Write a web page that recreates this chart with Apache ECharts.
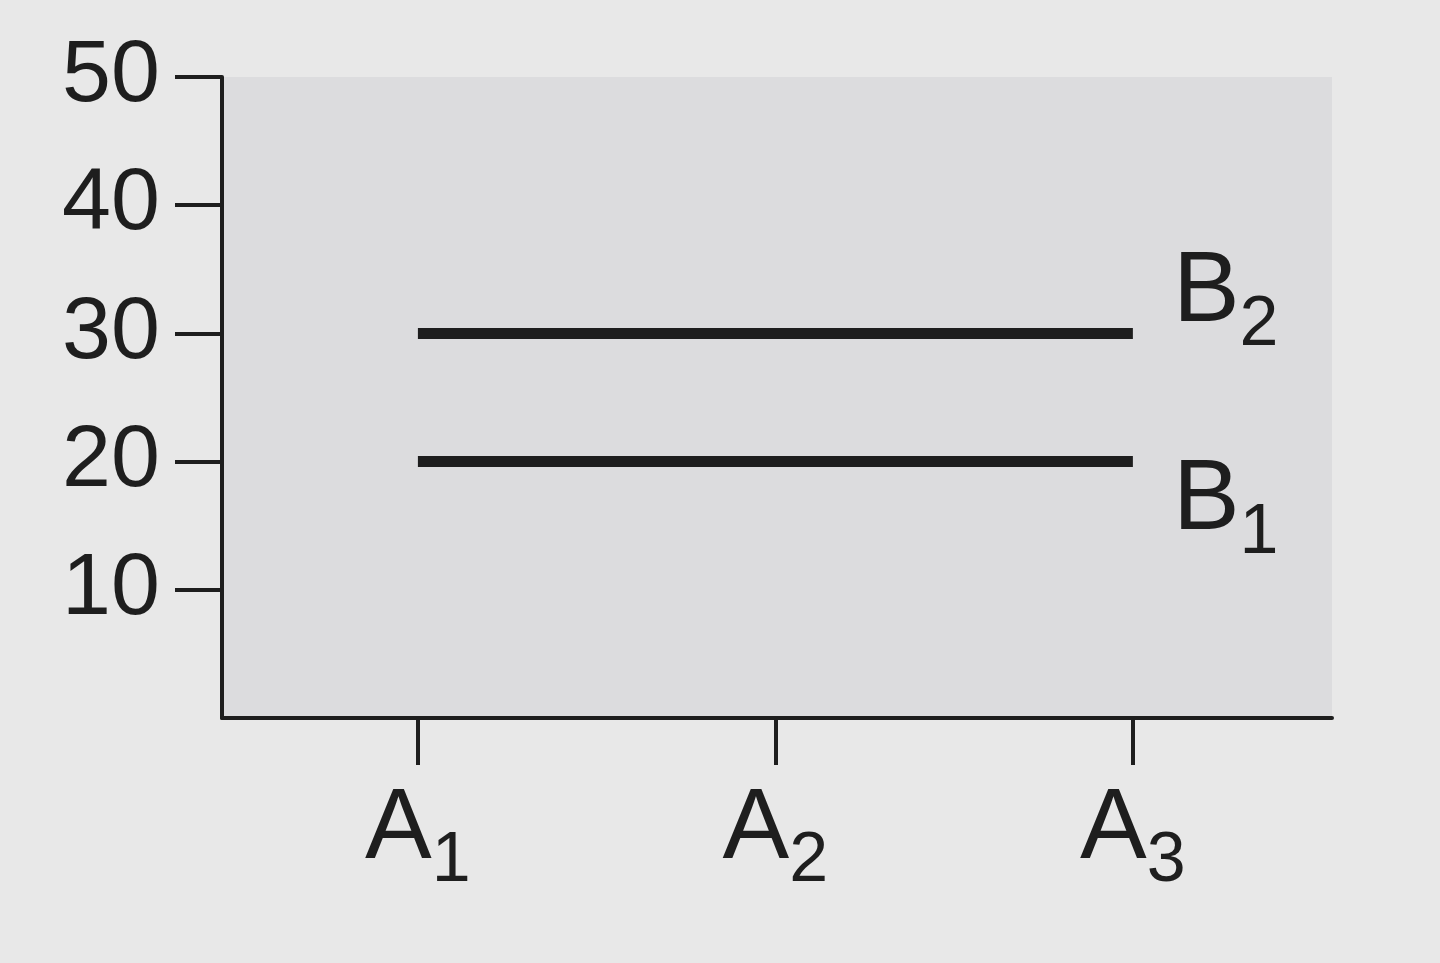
<!DOCTYPE html>
<html>
<head>
<meta charset="utf-8">
<script src="https://cdn.jsdelivr.net/npm/echarts@6/dist/echarts.min.js"></script>
<style>
  html, body { margin: 0; padding: 0; background: #e8e8e8; }
  #main { width: 1440px; height: 963px; }
</style>
</head>
<body>
<div id="main"></div>
<script>
// levels of factor A on the x axis
var levelsA = ['A1', 'A2', 'A3'];
var xPos = [1, 2, 3];
// levels of factor B, one line each
var levelsB = ['B1', 'B2'];
var valuesB1 = [20, 20, 20];
var valuesB2 = [30, 30, 30];
var yTicks = [10, 20, 30, 40, 50];

var font = 'Liberation Sans, Arial, Helvetica, sans-serif';
var ink = '#1e1e1e';

function pairs(vals) {
    return xPos.map(function (x, i) { return [x, vals[i]]; });
}

// letter with a subscript, e.g. A1 -> A₁
function subText(name) {
    return '{m|' + name.charAt(0) + '}{s|' + name.slice(1) + '}';
}
var subRich = {
    m: { fontSize: 100, lineHeight: 100, fontFamily: font, color: ink, verticalAlign: 'top' },
    s: { fontSize: 70, lineHeight: 70, fontFamily: font, color: ink, verticalAlign: 'top', padding: [47, 0, 0, 0] }
};

var option = {
    backgroundColor: '#e8e8e8',
    animation: false,
    grid: {
        left: 222, right: 108, top: 77, bottom: 245,
        show: true, backgroundColor: '#dcdcde', borderWidth: 0
    },
    xAxis: {
        type: 'value',
        min: 0.452, max: 3.557,
        splitLine: { show: false },
        axisLine: { lineStyle: { color: ink, width: 4 } },
        axisTick: { customValues: xPos, length: 47, lineStyle: { color: ink, width: 4 } },
        axisLabel: {
            customValues: xPos,
            margin: 62,
            formatter: function (v) { return subText(levelsA[xPos.indexOf(v)]); },
            rich: subRich
        }
    },
    yAxis: {
        type: 'value',
        min: 0, max: 50, interval: 10,
        splitLine: { show: false },
        axisLine: { show: true, lineStyle: { color: ink, width: 4 } },
        axisTick: { show: true, customValues: yTicks, length: 47, lineStyle: { color: ink, width: 4 } },
        axisLabel: {
            customValues: yTicks,
            margin: 62,
            fontSize: 88,
            fontFamily: font,
            color: ink,
            padding: [0, 0, 12, 0]
        }
    },
    series: [
        {
            name: levelsB[0], type: 'line', data: pairs(valuesB1),
            symbol: 'none',
            lineStyle: { color: ink, width: 11 },
            endLabel: {
                show: true, formatter: subText(levelsB[0]), rich: subRich,
                distance: 40, offset: [0, 40]
            }
        },
        {
            name: levelsB[1], type: 'line', data: pairs(valuesB2),
            symbol: 'none',
            lineStyle: { color: ink, width: 11 },
            endLabel: {
                show: true, formatter: subText(levelsB[1]), rich: subRich,
                distance: 40, offset: [0, -40]
            }
        }
    ]
};

var myChart = echarts.init(document.getElementById('main'));
myChart.setOption(option);
</script>
</body>
</html>
